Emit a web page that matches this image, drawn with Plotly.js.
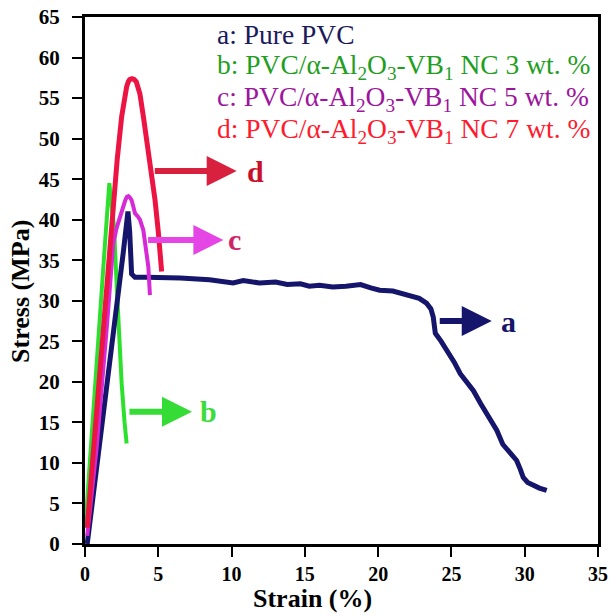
<!DOCTYPE html>
<html>
<head>
<meta charset="utf-8">
<script src="https://cdn.plot.ly/plotly-3.0.1.min.js"></script>
<style>html,body{margin:0;padding:0;background:#fff;}#chart{width:610px;height:616px;}</style>
</head>
<body>
<div id="chart"></div>
<script>
// a: Pure PVC
const strainA = [0.15, 0.6, 1.14, 1.6, 1.93, 2.3, 2.6, 2.93, 3.05, 3.18, 3.41, 4.2, 5.1, 6.5, 8.5, 10.1, 10.8, 11.9, 13.0, 13.8, 14.7, 15.3, 16.0, 16.9, 17.8, 18.8, 19.5, 20.1, 21.0, 22.2, 22.8, 23.3, 23.6, 23.76, 23.9, 24.3, 24.7, 25.2, 25.6, 26.0, 26.5, 27.0, 27.6, 28.1, 28.5, 29.0, 29.45, 29.7, 29.9, 30.2, 30.6, 31.0, 31.5];
const stressA = [0.0, 6.5, 14.8, 20.5, 25.0, 31.0, 35.8, 41.0, 38.5, 33.3, 32.9, 32.9, 32.9, 32.8, 32.6, 32.2, 32.5, 32.2, 32.3, 32.0, 32.1, 31.8, 31.9, 31.7, 31.8, 32.0, 31.6, 31.3, 31.2, 30.7, 30.3, 29.7, 29.0, 28.0, 26.0, 25.0, 23.9, 22.4, 21.0, 20.0, 18.9, 17.3, 15.6, 14.0, 12.3, 11.2, 10.3, 9.2, 8.2, 7.6, 7.2, 6.9, 6.6];
// b: 3 wt.%
const strainB = [0.02, 0.5, 1.0, 1.4, 1.66, 1.8, 1.98, 2.12, 2.27, 2.5, 2.7, 2.84];
const stressB = [2.0, 15.0, 28.0, 38.0, 44.5, 42.0, 39.1, 33.5, 28.0, 19.8, 15.0, 12.4];
// c: 5 wt.%
const strainC = [0.15, 0.8, 1.5, 1.93, 2.16, 2.5, 2.73, 2.85, 2.96, 3.08, 3.18, 3.3, 3.41, 3.6, 3.75, 3.98, 4.16, 4.32, 4.43];
const stressC = [1.0, 12.0, 27.0, 37.1, 39.0, 41.2, 42.3, 42.8, 42.9, 42.7, 42.4, 41.6, 40.8, 40.4, 40.0, 38.7, 36.7, 34.2, 30.7];
// d: 7 wt.%
const strainD = [0.15, 0.6, 1.25, 1.8, 2.2, 2.5, 2.7, 2.84, 2.95, 3.05, 3.2, 3.35, 3.5, 3.62, 3.75, 4.0, 4.3, 4.55, 4.78, 5.0, 5.23];
const stressD = [2.0, 12.0, 28.0, 40.0, 47.5, 52.7, 55.2, 56.4, 57.0, 57.3, 57.4, 57.3, 57.0, 56.4, 55.5, 52.5, 48.6, 45.5, 42.4, 38.5, 33.6];

const legendLabels = [
  'a: Pure PVC',
  'b: PVC/α-Al<sub>2</sub>O<sub>3</sub>-VB<sub>1</sub> NC 3 wt. %',
  'c: PVC/α-Al<sub>2</sub>O<sub>3</sub>-VB<sub>1</sub> NC 5 wt. %',
  'd: PVC/α-Al<sub>2</sub>O<sub>3</sub>-VB<sub>1</sub> NC 7 wt. %'
];
const curveLetters = ['a', 'b', 'c', 'd'];
const xTickVals = [0, 5, 10, 15, 20, 25, 30, 35];
const yTickVals = [0, 5, 10, 15, 20, 25, 30, 35, 40, 45, 50, 55, 60, 65];
const xTitle = 'Strain (%)';
const yTitle = 'Stress (MPa)';

const navy = '#15166b', green = '#2ee02e', magenta = '#d62ad6', red = '#ec1443';

const traces = [
  {x: strainB, y: stressB, mode: 'lines', line: {color: green, width: 4}, name: 'b'},
  {x: strainA, y: stressA, mode: 'lines', line: {color: navy, width: 5}, name: 'a'},
  {x: strainC, y: stressC, mode: 'lines', line: {color: magenta, width: 4}, name: 'c'},
  {x: strainD, y: stressD, mode: 'lines', line: {color: red, width: 5}, name: 'd'}
];

const serif = '"Liberation Serif", "Times New Roman", serif';
const legendColors = ['#1b1b5c', '#1f9e1f', '#9c159c', '#ff1a2e'];
const legendY = [62.8, 58.9, 54.9, 51.0];
const annotations = [];
legendLabels.forEach((t, i) => {
  annotations.push({x: 8.84, y: legendY[i], xref: 'x', yref: 'y', text: t, showarrow: false,
    xanchor: 'left', yanchor: 'middle', font: {family: serif, size: 27.5, color: legendColors[i]}});
});
// pointer arrows: [head x, head y, tail x, tail y, colour, label x, label colour]
const arrowSpecs = [
  [27.75, 27.5, 24.1, 27.5, navy, 28.9, navy],
  [7.3, 16.3, 2.93, 16.3, '#36dc36', 8.4, '#3ddc3d'],
  [9.44, 37.5, 4.2, 37.5, '#e445e4', 10.2, '#cf2468'],
  [10.35, 46.0, 4.66, 46.0, '#d8203f', 11.65, '#c8102c']
];
arrowSpecs.forEach((s, i) => {
  annotations.push({x: s[0], y: s[1], ax: s[2], ay: s[3], xref: 'x', yref: 'y', axref: 'x', ayref: 'y',
    text: '', showarrow: true, arrowhead: 2, arrowsize: 1.0, arrowwidth: 6, arrowcolor: s[4], standoff: 0});
  annotations.push({x: s[5], y: s[1], xref: 'x', yref: 'y', text: curveLetters[i], showarrow: false,
    xanchor: 'center', yanchor: 'middle', font: {family: serif, size: 30, color: s[6], weight: 'bold'}});
});
annotations.push({x: 0.444, y: -0.104, xref: 'paper', yref: 'paper', text: xTitle, showarrow: false,
  xanchor: 'center', yanchor: 'middle', font: {family: serif, size: 26, color: '#000', weight: 'bold'}});
annotations.push({x: -0.127, y: 0.48, xref: 'paper', yref: 'paper', text: yTitle, showarrow: false, textangle: -90,
  xanchor: 'center', yanchor: 'middle', font: {family: serif, size: 26, color: '#000', weight: 'bold'}});

const layout = {
  width: 610, height: 616,
  margin: {l: 85, r: 12, t: 17, b: 72},
  paper_bgcolor: '#fff', plot_bgcolor: '#fff',
  showlegend: false,
  xaxis: {range: [0, 35], tickvals: xTickVals, ticks: 'outside', ticklen: 10, tickwidth: 2, tickcolor: '#000',
    showline: true, linewidth: 3, linecolor: '#000', mirror: true, showgrid: false, zeroline: false,
    tickfont: {family: serif, size: 20, color: '#000', weight: 'bold'}},
  yaxis: {range: [0, 65], tickvals: yTickVals, ticks: 'outside', ticklen: 10, tickwidth: 2, tickcolor: '#000',
    showline: true, linewidth: 3, linecolor: '#000', mirror: true, showgrid: false, zeroline: false,
    ticklabelstandoff: 8,
    tickfont: {family: serif, size: 21, color: '#000', weight: 'bold'}},
  annotations: annotations
};

Plotly.newPlot('chart', traces, layout, {displayModeBar: false, staticPlot: true});
</script>
</body>
</html>
